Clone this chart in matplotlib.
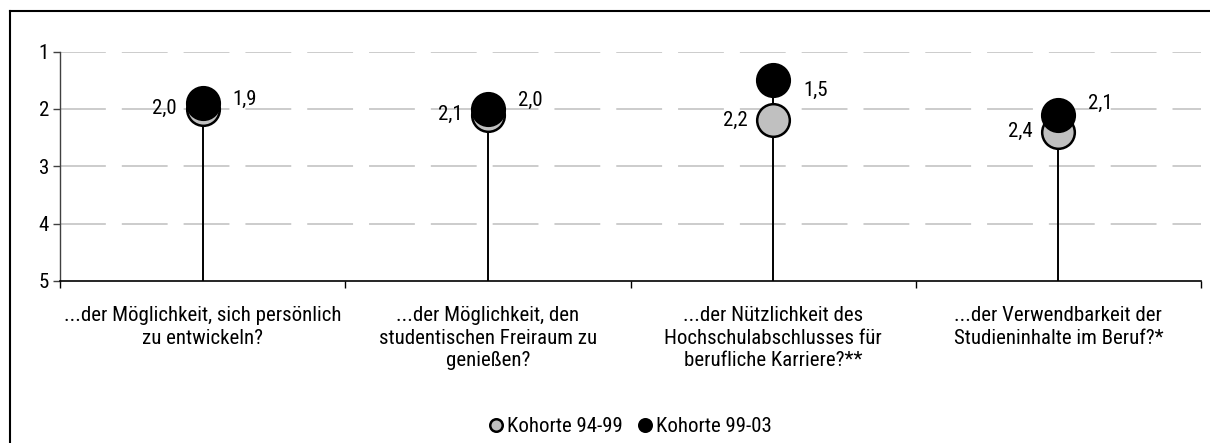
import matplotlib
matplotlib.use("Agg")
import matplotlib.pyplot as plt
from matplotlib.lines import Line2D
import numpy as np

# Category labels (questions) and mean ratings per cohort (1 = best, 5 = worst)
categories = [
    "...der Möglichkeit, sich persönlich\nzu entwickeln?",
    "...der Möglichkeit, den\nstudentischen Freiraum zu\ngenießen?",
    "...der Nützlichkeit des\nHochschulabschlusses für\nberufliche Karriere?**",
    "...der Verwendbarkeit der\nStudieninhalte im Beruf?*",
]
kohorte_94_99 = [2.0, 2.1, 2.2, 2.4]
kohorte_99_03 = [1.9, 2.0, 1.5, 2.1]
series_names = ["Kohorte 94-99", "Kohorte 99-03"]
y_ticks = [1, 2, 3, 4, 5]

plt.rcParams["font.family"] = ["Roboto Condensed", "DejaVu Sans"]
plt.rcParams["lines.scale_dashes"] = False

W, H = 1210, 443
fig = plt.figure(figsize=(W / 100, H / 100), dpi=100)

# Frame around the chart area (left and top edges visible)
fig.add_artist(Line2D([10 / W, 10 / W], [0, 1 - 11 / H], transform=fig.transFigure,
                      color="black", lw=1.5))
fig.add_artist(Line2D([10 / W, 1], [1 - 11 / H, 1 - 11 / H], transform=fig.transFigure,
                      color="black", lw=1.5))

ax = fig.add_axes([60 / W, 1 - 281 / H, (1201 - 60) / W, (281 - 51.5) / H])

x = np.arange(len(categories))
ax.set_xlim(-0.5, len(categories) - 0.5)
ax.set_ylim(5, 1)

# Grid lines
for yv in y_ticks[:-1]:
    ax.axhline(yv, color="#c4c4c4", lw=1.2, dashes=(33, 11.5), zorder=0)

# Stems from the ratings down to the axis
bottom = max(y_ticks)
for xi, a, b in zip(x, kohorte_94_99, kohorte_99_03):
    ax.vlines(xi, min(a, b), bottom, color="black", lw=1.4, zorder=1)

ms = 23.5
ax.plot(x, kohorte_94_99, "o", ms=ms, mfc="#c0c0c0", mec="black", mew=1.8,
        ls="none", zorder=3, clip_on=False)
ax.plot(x, kohorte_99_03, "o", ms=ms, mfc="black", mec="black", mew=1.8,
        ls="none", zorder=4, clip_on=False)

fs = 15
# vertical nudges (points) for the value labels of the newer cohort
label_dy = [3, 6, -7, 8]
for xi, v in zip(x, kohorte_94_99):
    ax.annotate(f"{v:.1f}".replace(".", ","), (xi, v), xytext=(-18.5, 0),
                textcoords="offset points", ha="right", va="center", fontsize=fs)
for xi, v, dy in zip(x, kohorte_99_03, label_dy):
    ax.annotate(f"{v:.1f}".replace(".", ","), (xi, v), xytext=(21.5, dy),
                textcoords="offset points", ha="left", va="center", fontsize=fs)

# Axes styling
ax.set_yticks(y_ticks)
ax.set_yticklabels([str(t) for t in y_ticks], fontsize=fs)
ax.tick_params(axis="y", direction="out", length=5, width=1, color="#404040", pad=3)
ax.set_xticks(x)
ax.set_xticklabels(categories, fontsize=fs, linespacing=1.25)
ax.tick_params(axis="x", which="major", length=0, pad=18)
ax.set_xticks(np.arange(-0.5, len(categories)), minor=True)
ax.tick_params(axis="x", which="minor", direction="out", length=5, width=1)
for s in ["top", "right"]:
    ax.spines[s].set_visible(False)
ax.spines["left"].set_color("#404040")
ax.spines["left"].set_linewidth(1)
ax.spines["bottom"].set_color("black")
ax.spines["bottom"].set_linewidth(1.2)

handles = [
    Line2D([], [], marker="o", ls="none", ms=9, mfc="#c0c0c0", mec="black", mew=1.8),
    Line2D([], [], marker="o", ls="none", ms=9, mfc="black", mec="black", mew=1.8),
]
fig.legend(handles, series_names, loc="center", bbox_to_anchor=(0.52, 16 / H),
           ncol=2, frameon=False, fontsize=fs, handletextpad=0.1, columnspacing=0.6,
           handlelength=0.9)

fig.savefig("out.png", dpi=100)
